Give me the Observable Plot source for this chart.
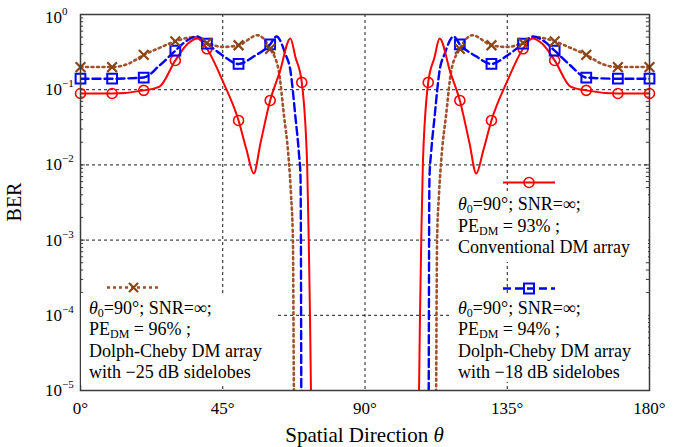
<!DOCTYPE html>
<html><head><meta charset="utf-8">
<script src="https://cdn.jsdelivr.net/npm/d3@7"></script>
<script src="https://cdn.jsdelivr.net/npm/@observablehq/plot@0.6"></script>
<style>
body{margin:0;background:#fff}
svg{font-family:"Liberation Serif","Times New Roman",serif}
</style>
</head><body><div id="chart"></div>
<script>
// ---- data (theta in degrees, BER) ----
const redTheta = [0,10,20,25,30,34,37,40,45,50,52.5,54.8,57,60,63,66.4,68,70,71.7,72.2,72.6,72.9,73.1,
  106.9,107.1,107.4,107.8,108.3,110,112,113.6,117,120,123,125.2,127.5,130,135,140,143,146,150,155,160,170,180];
const redBER = [0.089,0.089,0.098,0.11,0.245,0.41,0.48,0.35,0.13,0.039,0.016,0.0077,0.02,0.072,0.17,0.48,0.27,0.125,0.01,0.001,0.0001,0.00001,0.000001,
  0.000001,0.00001,0.0001,0.001,0.01,0.125,0.27,0.48,0.17,0.072,0.02,0.0077,0.016,0.039,0.13,0.35,0.48,0.41,0.245,0.11,0.098,0.089,0.089];

const blueTheta = [0,10,20,25,30,33,36.9,40,45,50,55,60,62,64.8,66.4,68,69.1,69.6,69.7,69.85,70,
  110,110.15,110.3,110.4,110.9,112,113.6,115.2,118,120,125,130,135,140,143.1,147,150,155,160,170,180];
const blueBER = [0.14,0.14,0.145,0.21,0.33,0.43,0.51,0.41,0.285,0.22,0.28,0.40,0.51,0.30,0.18,0.043,0.0142,0.0069,0.002,0.00001,0.000001,
  0.000001,0.00001,0.002,0.0069,0.0142,0.043,0.18,0.30,0.51,0.40,0.28,0.22,0.285,0.41,0.51,0.43,0.33,0.21,0.145,0.14,0.14];

const brownTheta = [0,10,15,20,25,30,36,40,45,50,56,60,62.7,64.3,65.9,66.6,67.2,67.5,67.7,
  112.3,112.5,112.8,113.4,114.1,115.7,117.3,120,124,130,135,140,144,150,155,160,165,170,180];
const brownBER = [0.2,0.2,0.22,0.29,0.36,0.44,0.5,0.42,0.37,0.39,0.53,0.35,0.18,0.048,0.0114,0.004,0.001,0.00001,0.000001,
  0.000001,0.00001,0.001,0.004,0.0114,0.048,0.18,0.35,0.53,0.39,0.37,0.42,0.5,0.44,0.36,0.29,0.22,0.2,0.2];

const redMarkTheta = [0,10,20,30,40,50,60,70,110,120,130,140,150,160,170,180];
const blueMarkTheta = [0,10,20,30,40,50,60,120,130,140,150,160,170,180];
const brownMarkTheta = [0,10,20,30,40,50,60,120,130,140,150,160,170,180];

const xTicks = [0,45,90,135,180];
const yTickExps = [0,-1,-2,-3,-4,-5];
const gridX = [45,90,135];
const gridY = [1e-1,1e-2,1e-3,1e-4];

const legendRed = ["Conventional DM array"];
const legendBlue = ["Dolph-Cheby DM array","with \u221218 dB sidelobes"];
const legendBrown = ["Dolph-Cheby DM array","with \u221225 dB sidelobes"];
const peRed = "93%", peBlue = "94%", peBrown = "96%";

// ---- build tables ----
const toRows = (t, v) => t.map((d, i) => ({t: d, v: v[i]}));
const red = toRows(redTheta, redBER);
const blue = toRows(blueTheta, blueBER);
const brown = toRows(brownTheta, brownBER);
const marks = (rows, th) => rows.filter(r => th.includes(r.t));
const minor = [];
for (let e = -5; e < 0; e++) for (let m = 2; m <= 9; m++) minor.push(m * 10 ** e);
const major = yTickExps.map(e => 10 ** e);

const RED = "#ff0000", BLUE = "#0000ff", BROWN = "#a0522d", BROWNM = "#8b4513";
const frameC = "#3a3a3a";

const plot = Plot.plot({
  width: 678, height: 447,
  marginLeft: 80, marginRight: 29, marginTop: 14, marginBottom: 57,
  style: {fontFamily: "Liberation Serif, serif", fontSize: "17px", background: "white", color: "black"},
  x: {domain: [0, 180]},
  y: {type: "log", domain: [1e-5, 1]},
  marks: [
    Plot.ruleX(gridX, {stroke: "black", strokeWidth: 0.9, strokeDasharray: "3,3"}),
    Plot.ruleY(gridY, {stroke: "black", strokeWidth: 0.9, strokeDasharray: "3,3"}),
    Plot.ruleY(minor, {y: d => d, x1: 0, x2: 1.0, stroke: frameC, strokeWidth: 1}),
    Plot.ruleY(minor, {y: d => d, x1: 179.0, x2: 180, stroke: frameC, strokeWidth: 1}),
    Plot.ruleY(major, {y: d => d, x1: 0, x2: 1.6, stroke: frameC, strokeWidth: 1}),
    Plot.ruleY(major, {y: d => d, x1: 178.4, x2: 180, stroke: frameC, strokeWidth: 1}),
    Plot.axisX({ticks: xTicks, tickFormat: d => d + "\u00b0", tickSize: 0, tickPadding: 11, fontSize: 17, label: null}),
    Plot.axisY({ticks: [], label: null, tickSize: 0}),
    Plot.line(brown, {x: "t", y: "v", stroke: BROWN, strokeWidth: 2.6, strokeDasharray: "2,3.5", curve: "monotone-x", clip: true}),
    Plot.line(blue, {x: "t", y: "v", stroke: BLUE, strokeWidth: 2.4, strokeDasharray: "8,4", curve: "monotone-x", clip: true}),
    Plot.line(red, {x: "t", y: "v", stroke: RED, strokeWidth: 2, curve: "monotone-x", clip: true}),
    Plot.dot(marks(red, redMarkTheta), {x: "t", y: "v", r: 5, stroke: RED, strokeWidth: 1.6, fill: "none"}),
    Plot.dot(marks(blue, blueMarkTheta), {x: "t", y: "v", r: 5.5, symbol: "square", stroke: BLUE, strokeWidth: 2, fill: "none"}),
    Plot.dot(marks(brown, brownMarkTheta), {x: "t", y: "v", r: 4.5, symbol: "times", stroke: BROWNM, strokeWidth: 2.2}),
    Plot.frame({stroke: frameC, strokeWidth: 1.5})
  ]
});

document.getElementById("chart").appendChild(plot);
const svg = d3.select(plot);
const ys = plot.scale("y");

// y tick labels with superscripts
yTickExps.forEach(e => {
  const y = ys.apply(10 ** e) + (e === 0 ? 9 : 6);
  const t = svg.append("text").attr("x", 45).attr("y", y).attr("font-size", 17).attr("fill", "black").attr("text-anchor", "start");
  t.append("tspan").text("10");
  t.append("tspan").attr("dy", -8).attr("font-size", 11).text(e === 0 ? "0" : "\u2212" + (-e));
});

// axis titles
svg.append("text").attr("transform", "translate(21,202) rotate(-90)").attr("text-anchor", "middle")
  .attr("font-size", 20).attr("fill", "black").text("BER");
const xt = svg.append("text").attr("x", 364.5).attr("y", 442).attr("text-anchor", "middle")
  .attr("font-size", 21).attr("fill", "black");
xt.append("tspan").text("Spatial Direction ");
xt.append("tspan").attr("font-style", "italic").text("\u03b8");

// legends
function marker(g, kind, cx, cy, color) {
  if (kind === "circle") g.append("circle").attr("cx", cx).attr("cy", cy).attr("r", 5).attr("fill", "none").attr("stroke", color).attr("stroke-width", 1.6);
  if (kind === "square") g.append("rect").attr("x", cx - 5).attr("y", cy - 5).attr("width", 10).attr("height", 10).attr("fill", "none").attr("stroke", color).attr("stroke-width", 2);
  if (kind === "times") g.append("path").attr("d", `M${cx-4.5},${cy-4.5}L${cx+4.5},${cy+4.5}M${cx-4.5},${cy+4.5}L${cx+4.5},${cy-4.5}`).attr("stroke", color).attr("stroke-width", 2.2);
}
function legend(opts) {
  const g = svg.append("g").attr("text-anchor", "start");
  g.append("rect").attr("x", opts.bx).attr("y", opts.by).attr("width", opts.bw).attr("height", opts.bh).attr("fill", "white");
  g.append("line").attr("x1", opts.lx1).attr("x2", opts.lx2).attr("y1", opts.ly).attr("y2", opts.ly)
    .attr("stroke", opts.color).attr("stroke-width", opts.sw).attr("stroke-dasharray", opts.dash || null);
  marker(g, opts.kind, (opts.lx1 + opts.lx2) / 2, opts.ly, opts.mcolor || opts.color);
  let y = opts.ty;
  const t1 = g.append("text").attr("x", opts.tx).attr("y", y).attr("font-size", 18).attr("fill", "black").attr("text-anchor", "start");
  t1.append("tspan").attr("font-style", "italic").text("\u03b8");
  t1.append("tspan").attr("dy", 3).attr("font-size", 12).text("0");
  t1.append("tspan").attr("dy", -3).text("=90\u00b0; SNR=\u221e;");
  y += opts.lh;
  const t2 = g.append("text").attr("x", opts.tx).attr("y", y).attr("font-size", 18).attr("fill", "black").attr("text-anchor", "start");
  t2.append("tspan").text("PE");
  t2.append("tspan").attr("dy", 3).attr("font-size", 12).text("DM");
  t2.append("tspan").attr("dy", -3).text(" = " + opts.pe + " ;");
  opts.lines.forEach(s => {
    y += opts.lh;
    g.append("text").attr("x", opts.tx).attr("y", y).attr("font-size", 18).attr("fill", "black").attr("text-anchor", "start").text(s);
  });
}
legend({bx: 450, by: 192, bw: 198, bh: 70, lx1: 503, lx2: 555, ly: 182.5, color: RED, sw: 2, kind: "circle",
  tx: 458, ty: 210, lh: 21.5, pe: peRed, lines: legendRed});
legend({bx: 450, by: 293, bw: 198, bh: 89, lx1: 503, lx2: 555, ly: 288.5, color: BLUE, sw: 2.4, dash: "8,4", kind: "square",
  tx: 458, ty: 313.5, lh: 21.5, pe: peBlue, lines: legendBlue});
legend({bx: 81, by: 293, bw: 194, bh: 92, lx1: 107, lx2: 160, ly: 287.5, color: BROWN, sw: 2.4, dash: "3,3", kind: "times", mcolor: BROWNM,
  tx: 89, ty: 313.5, lh: 21.5, pe: peBrown, lines: legendBrown});
</script>
</body></html>
